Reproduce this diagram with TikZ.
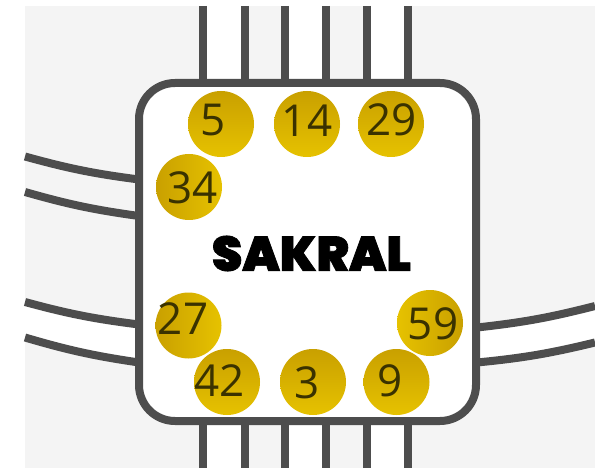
\documentclass[tikz,border=0pt]{standalone}
\usepackage{fontspec}
\usepackage{graphicx}
\setmainfont{Open Sans}
\IfFontExistsTF{Poppins Black}
  {\newfontfamily\sakfont{Poppins Black}[FakeBold=1.5]}
  {\newfontfamily\sakfont{Liberation Sans}[FakeBold=3]}

\definecolor{bggray}{HTML}{F4F4F4}
\definecolor{wire}{HTML}{4D4D4D}
\definecolor{golddark}{HTML}{C9A000}
\definecolor{goldlight}{HTML}{E6C200}
\definecolor{numink}{HTML}{3A3200}

\tikzset{
  wall/.style={draw=wire, line width=8pt},
  gate/.style={circle, minimum size=66pt, inner sep=0pt},
  gtop/.style={gate, top color=golddark, bottom color=goldlight},
  gleft/.style={gate, left color=golddark, right color=goldlight},
  gright/.style={gate, left color=goldlight, right color=golddark},
  num/.style={inner sep=0pt, text=numink, font=\fontsize{44}{44}\selectfont},
  centrebox/.style={draw=wire, line width=8pt, fill=white, rounded corners=36pt,
    minimum width=337pt, minimum height=338pt, inner sep=0pt},
}

\begin{document}
\begin{tikzpicture}[x=1pt, y=-1pt]
\useasboundingbox (0,0) rectangle (595,468);
\fill[bggray] (25,6) rectangle (595,468);

% straight channels above and below the centre
\foreach \xa/\xb in {203/244.5, 285/326, 366.5/407.5} {
  \fill[white] (\xa,6) rectangle (\xb,83);
  \fill[white] (\xa,421) rectangle (\xb,468);
  \draw[wall] (\xa,6) -- (\xa,83) (\xb,6) -- (\xb,83);
  \draw[wall] (\xa,421) -- (\xa,468) (\xb,421) -- (\xb,468);
}

% curved channels on the left (upper one open, lower one filled)
\draw[wall] (25,156.5) to[bend right=4] (139,179.5);
\draw[wall] (25,192) to[bend right=4] (139,216);

\fill[white] (25,302) to[bend right=4] (139,324.5) -- (139,362.5) to[bend left=4] (25,337.5) -- cycle;
\draw[wall] (25,302) to[bend right=4] (139,324.5);
\draw[wall] (25,337.5) to[bend right=4] (139,362.5);

% curved channel on the right
\fill[white] (477,327.5) to[bend right=4] (595,306) -- (595,342.5) to[bend left=4] (477,362.5) -- cycle;
\draw[wall] (477,327.5) to[bend right=4] (595,306);
\draw[wall] (477,362.5) to[bend right=4] (595,342.5);

% the centre
\node[centrebox] (sakral) at (307.5,252) {};
\node[inner sep=0pt] (sakraltitle) at (311.5,253.5) {\resizebox{199pt}{35pt}{\sakfont SAKRAL}};

% gates
\node[gtop]   (g5)  at (221,124)   {};
\node[gtop]   (g14) at (307,124)   {};
\node[gtop]   (g29) at (391,124)   {};
\node[gleft]  (g34) at (189,187)   {};
\node[gleft]  (g27) at (188.5,325.5) {};
\node[gtop]   (g42) at (227,382)   {};
\node[gtop]   (g3)  at (313,382)   {};
\node[gtop]   (g9)  at (396.5,382) {};
\node[gright] (g59) at (430,323)   {};

\node[num] (t5)  at (213,120.5)   {5};
\node[num] (t14) at (307,120.5)   {14};
\node[num] (t29) at (391.5,120)   {29};
\node[num] (t34) at (192.5,188)   {34};
\node[num] (t27) at (183,319)     {27};
\node[num] (t42) at (219.5,381)   {42};
\node[num] (t3)  at (307,382.5)   {3};
\node[num] (t9)  at (390,381)     {9};
\node[num] (t59) at (433,323.5)   {59};
\end{tikzpicture}
\end{document}
